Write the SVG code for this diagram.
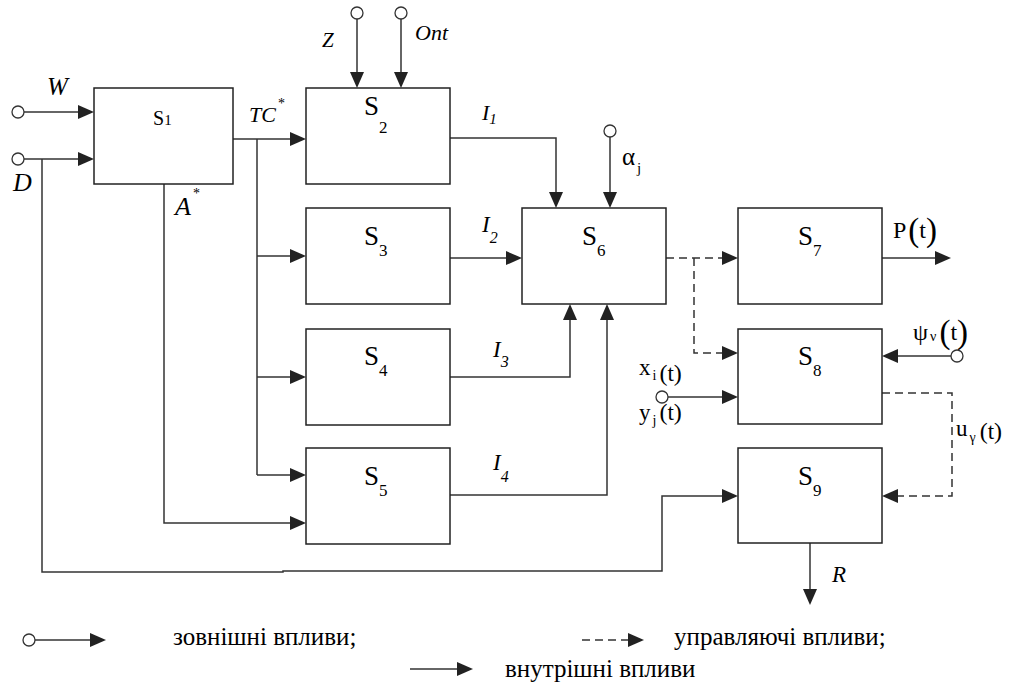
<svg xmlns="http://www.w3.org/2000/svg" width="1016" height="684" viewBox="0 0 1016 684">
<rect width="1016" height="684" fill="#fff"/>
<g id="connectors">
<g fill="none" stroke="#333" stroke-width="1.5">
<path d="M24,112 H84"/>
<path d="M24,159 H84"/>
<path d="M357,19 V78"/>
<path d="M401,19 V78"/>
<path d="M233,139 H296"/>
<path d="M257,139 V475"/>
<path d="M257,256 H296"/>
<path d="M257,377 H296"/>
<path d="M257,475 H296"/>
<path d="M164,184 V523 H296"/>
<path d="M42,159 V572 H283 V571 H662 V496 H728"/>
<path d="M450,138 H556 V198"/>
<path d="M610,137 V198"/>
<path d="M450,258 H512"/>
<path d="M450,377 H570 V314"/>
<path d="M450,495 H607 V314"/>
<path d="M882,258 H941"/>
<path d="M951,356 H892"/>
<path d="M668,397 H728"/>
<path d="M810,543 V595"/>
<g stroke-dasharray="8,5">
<path d="M666,258 H728"/>
<path d="M694,258 V353 H728"/>
<path d="M882,393 H952 V496 H892"/>
</g>
</g>
<g fill="#222">
<polygon points="78,105 94,112 78,119"/>
<polygon points="78,152 94,159 78,166"/>
<polygon points="350,72 357,88 364,72"/>
<polygon points="394,72 401,88 408,72"/>
<polygon points="290,132 306,139 290,146"/>
<polygon points="290,249 306,256 290,263"/>
<polygon points="290,370 306,377 290,384"/>
<polygon points="290,468 306,475 290,482"/>
<polygon points="290,516 306,523 290,530"/>
<polygon points="722,489 738,496 722,503"/>
<polygon points="549,192 556,208 563,192"/>
<polygon points="603,192 610,208 617,192"/>
<polygon points="506,251 522,258 506,265"/>
<polygon points="563,320 570,304 577,320"/>
<polygon points="600,320 607,304 614,320"/>
<polygon points="722,251 738,258 722,265"/>
<polygon points="722,346 738,353 722,360"/>
<polygon points="935,251 951,258 935,265"/>
<polygon points="898,349 882,356 898,363"/>
<polygon points="722,390 738,397 722,404"/>
<polygon points="898,489 882,496 898,503"/>
<polygon points="803,589 810,605 817,589"/>
</g>
<g fill="#fff" stroke="#333" stroke-width="1.3">
<circle cx="18" cy="112" r="6"/>
<circle cx="18" cy="159" r="6"/>
<circle cx="357" cy="13" r="6"/>
<circle cx="401" cy="13" r="6"/>
<circle cx="610" cy="131" r="6"/>
<circle cx="957" cy="356" r="6"/>
<circle cx="662" cy="397" r="6"/>
</g>
</g>
<g id="S1"><rect fill="#fff" stroke="#222" stroke-width="1.5" x="94" y="88" width="139" height="96"/><text font-family="Liberation Serif" x="153" y="125" font-size="20">S<tspan font-size="15">1</tspan></text></g>
<g id="S2"><rect fill="#fff" stroke="#222" stroke-width="1.5" x="306" y="88" width="144" height="96"/><text font-family="Liberation Serif" x="364" y="115" font-size="27">S<tspan font-size="17" dy="18">2</tspan></text></g>
<g id="S3"><rect fill="#fff" stroke="#222" stroke-width="1.5" x="306" y="208" width="144" height="96"/><text font-family="Liberation Serif" x="364" y="245" font-size="27">S<tspan font-size="17" dy="11">3</tspan></text></g>
<g id="S4"><rect fill="#fff" stroke="#222" stroke-width="1.5" x="306" y="329" width="144" height="96"/><text font-family="Liberation Serif" x="364" y="365" font-size="27">S<tspan font-size="17" dy="11">4</tspan></text></g>
<g id="S5"><rect fill="#fff" stroke="#222" stroke-width="1.5" x="306" y="448" width="144" height="96"/><text font-family="Liberation Serif" x="364" y="485" font-size="27">S<tspan font-size="17" dy="11">5</tspan></text></g>
<g id="S6"><rect fill="#fff" stroke="#222" stroke-width="1.5" x="522" y="208" width="144" height="96"/><text font-family="Liberation Serif" x="582" y="245" font-size="27">S<tspan font-size="17" dy="11">6</tspan></text></g>
<g id="S7"><rect fill="#fff" stroke="#222" stroke-width="1.5" x="738" y="208" width="144" height="96"/><text font-family="Liberation Serif" x="798" y="245" font-size="27">S<tspan font-size="17" dy="11">7</tspan></text></g>
<g id="S8"><rect fill="#fff" stroke="#222" stroke-width="1.5" x="738" y="329" width="144" height="95"/><text font-family="Liberation Serif" x="798" y="365" font-size="27">S<tspan font-size="17" dy="11">8</tspan></text></g>
<g id="S9"><rect fill="#fff" stroke="#222" stroke-width="1.5" x="738" y="448" width="144" height="95"/><text font-family="Liberation Serif" x="798" y="485" font-size="27">S<tspan font-size="17" dy="11">9</tspan></text></g>
<g id="labels">
<text font-family="Liberation Serif" font-style="italic" x="47" y="95" font-size="25">W</text>
<text font-family="Liberation Serif" font-style="italic" x="13" y="191" font-size="26">D</text>
<text font-family="Liberation Serif" font-style="italic" x="249" y="122" font-size="22">TC<tspan font-size="14" dx="2" dy="-14" font-style="normal">*</tspan></text>
<text font-family="Liberation Serif" font-style="italic" x="175" y="215" font-size="26">A<tspan font-size="14" dx="2" dy="-17" font-style="normal">*</tspan></text>
<text font-family="Liberation Serif" font-style="italic" x="322" y="47" font-size="21">Z</text>
<text font-family="Liberation Serif" font-style="italic" x="415" y="40" font-size="22">Ont</text>
<text font-family="Liberation Serif" font-style="italic" x="482" y="120" font-size="22">I<tspan font-size="15" dy="4">1</tspan></text>
<text font-family="Liberation Serif" font-style="italic" x="482" y="232" font-size="23">I<tspan font-size="16" dy="11">2</tspan></text>
<text font-family="Liberation Serif" font-style="italic" x="493" y="357" font-size="23">I<tspan font-size="16" dy="10">3</tspan></text>
<text font-family="Liberation Serif" font-style="italic" x="493" y="470" font-size="23">I<tspan font-size="16" dy="12">4</tspan></text>
<text font-family="Liberation Serif" x="622" y="165" font-size="25">α<tspan font-size="15" dx="2" dy="8">j</tspan></text>
<text font-family="Liberation Serif" x="893" y="238" font-size="24">P<tspan font-size="33" dx="2" dy="3">(</tspan><tspan dy="-3">t</tspan><tspan font-size="33" dy="3">)</tspan></text>
<text font-family="Liberation Serif" x="913" y="340" font-size="24">ψ<tspan font-size="14" dx="2" dy="1">ν</tspan><tspan font-size="33" dx="3" dy="2">(</tspan><tspan dy="-3">t</tspan><tspan font-size="33" dy="3">)</tspan></text>
<text font-family="Liberation Serif" x="639" y="375" font-size="23">x<tspan font-size="14" dx="2" dy="5">i</tspan><tspan font-size="24" dx="3" dy="1">(</tspan><tspan>t</tspan><tspan font-size="24">)</tspan></text>
<text font-family="Liberation Serif" x="639" y="420" font-size="23">y<tspan font-size="14" dx="2" dy="5">j</tspan><tspan font-size="24" dx="3" dy="-5">(</tspan><tspan>t</tspan><tspan font-size="24">)</tspan></text>
<text font-family="Liberation Serif" x="956" y="436" font-size="23">u<tspan font-size="14" dx="2" dy="6">γ</tspan><tspan font-size="24" dx="4" dy="-3">(</tspan><tspan>t</tspan><tspan font-size="24">)</tspan></text>
<text font-family="Liberation Serif" font-style="italic" x="832" y="582" font-size="23">R</text>
</g>
<g id="legend">
<circle fill="#fff" stroke="#333" stroke-width="1.3" cx="29" cy="640" r="6"/>
<path fill="none" stroke="#333" stroke-width="1.5" d="M35,640 H96"/>
<polygon fill="#222" points="90,633 106,640 90,647"/>
<text font-family="Liberation Serif" x="173" y="645" font-size="25">зовнішні впливи;</text>
<path fill="none" stroke="#333" stroke-width="1.5" stroke-dasharray="8,5" d="M582,640 H634"/>
<polygon fill="#222" points="628,633 644,640 628,647"/>
<text font-family="Liberation Serif" x="674" y="645" font-size="25">управляючі впливи;</text>
<path fill="none" stroke="#333" stroke-width="1.5" d="M410,669 H463"/>
<polygon fill="#222" points="457,662 473,669 457,676"/>
<text font-family="Liberation Serif" x="505" y="677" font-size="25">внутрішні впливи</text>
</g>
</svg>
